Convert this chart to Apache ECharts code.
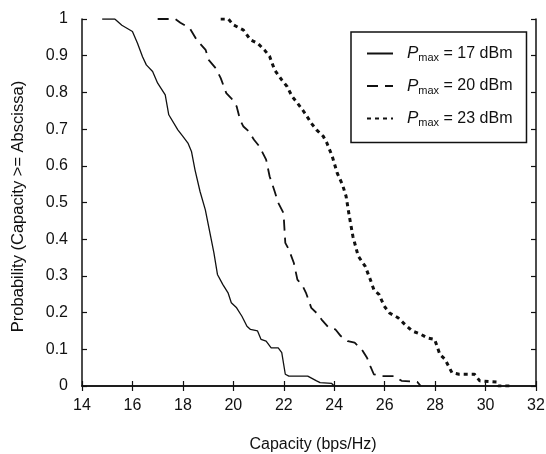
<!DOCTYPE html>
<html>
<head>
<meta charset="utf-8">
<script src="https://cdn.jsdelivr.net/npm/echarts@6/dist/echarts.min.js"></script>
<style>
  html, body { margin: 0; padding: 0; background: #fff; }
  #chart { width: 546px; height: 454px; }
</style>
</head>
<body>
<div id="chart"></div>
<script>
  // P_max labels (dBm)
  const powerLabels = ['17', '20', '23'];

  // Pmax = 17 dBm
  const cap17 = [14.8, 15.3, 15.58, 16.0, 16.2, 16.4, 16.55, 16.8, 17.0, 17.3, 17.44, 17.8, 18.0, 18.2, 18.34,
    18.48, 18.68, 18.89, 19.1, 19.23, 19.37, 19.58, 19.79, 19.92, 20.13, 20.34, 20.54, 20.68, 20.96,
    21.1, 21.3, 21.5, 21.78, 21.92, 22.06, 22.2, 22.95, 23.3, 23.44, 23.9, 24.0];
  const prob17 = [1, 1, 0.983, 0.966, 0.934, 0.897, 0.875, 0.857, 0.825, 0.793, 0.739, 0.698, 0.68, 0.662, 0.639,
    0.589, 0.53, 0.48, 0.408, 0.363, 0.304, 0.277, 0.254, 0.227, 0.213, 0.19, 0.163, 0.154, 0.15,
    0.127, 0.122, 0.104, 0.104, 0.091, 0.032, 0.027, 0.027, 0.014, 0.009, 0.007, 0];

  // Pmax = 20 dBm
  const cap20 = [17.0, 17.7, 17.9, 18.27, 18.55, 18.9, 19.03, 19.3, 19.5, 19.72, 19.92, 20.13, 20.27, 20.4, 20.61,
    20.82, 21.03, 21.3, 21.44, 21.64, 21.78, 21.99, 22.06, 22.2, 22.4, 22.54, 22.75, 22.88, 23.09,
    23.3, 23.5, 23.78, 24.05, 24.26, 24.54, 24.81, 25.09, 25.3, 25.43, 25.57, 25.85, 26.4, 26.67,
    27.29, 27.43];
  const prob20 = [1, 1, 0.99, 0.975, 0.943, 0.916, 0.888, 0.866, 0.839, 0.798, 0.784, 0.762, 0.725, 0.707, 0.694,
    0.671, 0.653, 0.617, 0.571, 0.53, 0.499, 0.471, 0.39, 0.372, 0.335, 0.29, 0.272, 0.254, 0.213,
    0.199, 0.181, 0.159, 0.154, 0.136, 0.122, 0.118, 0.1, 0.077, 0.054, 0.032, 0.027, 0.027, 0.014,
    0.011, 0];

  // Pmax = 23 dBm
  const cap23 = [19.5, 19.8, 20.0, 20.4, 20.68, 20.96, 21.23, 21.44, 21.64, 21.92, 22.13, 22.33, 22.54, 22.75,
    22.88, 23.09, 23.3, 23.57, 23.71, 23.92, 24.12, 24.33, 24.47, 24.6, 24.74, 24.95, 25.23, 25.43,
    25.57, 25.78, 25.98, 26.19, 26.53, 26.8, 27.09, 27.43, 27.7, 27.98, 28.19, 28.39, 28.67, 28.95,
    29.56, 29.77, 30.46, 30.5, 31.0];
  const prob23 = [1, 1, 0.984, 0.97, 0.943, 0.934, 0.916, 0.898, 0.861, 0.834, 0.816, 0.789, 0.771, 0.752,
    0.739, 0.716, 0.698, 0.68, 0.662, 0.626, 0.58, 0.548, 0.517, 0.462, 0.408, 0.354, 0.326, 0.29,
    0.263, 0.249, 0.218, 0.199, 0.186, 0.168, 0.15, 0.141, 0.131, 0.127, 0.086, 0.073, 0.036, 0.032,
    0.032, 0.014, 0.011, 0, 0];

  const zip = (xs, ys) => xs.map((x, i) => [x, ys[i]]);

  const font = 'Liberation Sans, Arial, Helvetica, sans-serif';
  const ink = '#111';

  const chart = echarts.init(document.getElementById('chart'), null, { renderer: 'canvas' });

  const tickStyle = { inside: true, length: 5, lineStyle: { color: ink, width: 1.2 } };
  const lineAxis = { lineStyle: { color: ink, width: 1.5 } };

  const legendText = {};
  powerLabels.forEach((p) => {
    legendText['P' + p] = '{p|P}{s|max}{t| = ' + p + ' dBm}';
  });

  chart.setOption({
    animation: false,
    color: [ink, ink, ink],
    grid: { left: 82, right: 10, top: 19, bottom: 68, containLabel: false, outerBoundsMode: 'none' },
    legend: {
      left: 351,
      top: 32,
      orient: 'vertical',
      itemWidth: 26,
      itemHeight: 14,
      itemGap: 14,
      padding: [13, 14, 14, 15],
      borderColor: ink,
      borderWidth: 1.5,
      backgroundColor: '#fff',
      itemStyle: { opacity: 0 },
      formatter: (name) => legendText[name],
      textStyle: {
        fontFamily: font,
        color: ink,
        rich: {
          p: { fontFamily: font, fontSize: 17, fontStyle: 'italic', color: ink, lineHeight: 20, padding: [0, 0, 0, 9] },
          s: { fontFamily: font, fontSize: 11, color: ink, lineHeight: 11, verticalAlign: 'bottom' },
          t: { fontFamily: font, fontSize: 16, color: ink, lineHeight: 20 }
        }
      }
    },
    xAxis: [
      {
        type: 'value', min: 14, max: 32, interval: 2,
        name: 'Capacity (bps/Hz)', nameLocation: 'middle', nameGap: 51,
        nameTextStyle: { fontFamily: font, fontSize: 16, color: ink, padding: [0, 0, 0, 8] },
        axisLine: lineAxis, axisTick: tickStyle, splitLine: { show: false },
        axisLabel: { fontFamily: font, fontSize: 16, color: ink, margin: 12 }
      },
      {
        type: 'value', min: 14, max: 32, interval: 2, position: 'top',
        axisLine: lineAxis, axisTick: tickStyle, splitLine: { show: false },
        axisLabel: { show: false }
      }
    ],
    yAxis: [
      {
        type: 'value', min: 0, max: 1, interval: 0.1,
        name: 'Probability (Capacity >= Abscissa)', nameLocation: 'middle', nameGap: 55,
        nameTextStyle: { fontFamily: font, fontSize: 16.5, color: ink, padding: [0, 8, 0, 0] },
        axisLine: lineAxis, axisTick: tickStyle, splitLine: { show: false },
        axisLabel: {
          fontFamily: font, fontSize: 16, color: ink, margin: 14,
          formatter: (v) => String(+v.toFixed(1))
        }
      },
      {
        type: 'value', min: 0, max: 1, interval: 0.1, position: 'right',
        axisLine: lineAxis, axisTick: tickStyle, splitLine: { show: false },
        axisLabel: { show: false }
      }
    ],
    series: [
      {
        name: 'P17', type: 'line', symbol: 'none', data: zip(cap17, prob17),
        lineStyle: { color: ink, width: 1.3, type: 'solid' }
      },
      {
        name: 'P20', type: 'line', symbol: 'none', data: zip(cap20, prob20),
        lineStyle: { color: ink, width: 1.8, type: [11, 7] }
      },
      {
        name: 'P23', type: 'line', symbol: 'none', data: zip(cap23, prob23),
        lineStyle: { color: ink, width: 3, type: [4, 4] }
      }
    ]
  });
</script>
</body>
</html>
